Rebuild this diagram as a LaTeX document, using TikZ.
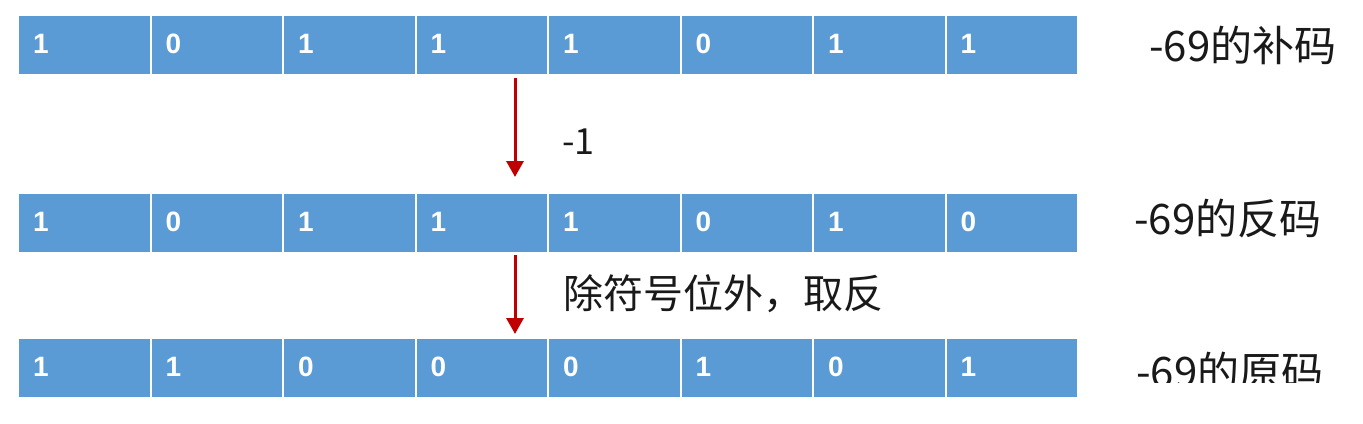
\documentclass[tikz,border=0pt]{standalone}
\usepackage{fontspec}
\setmainfont{Liberation Sans}
\newfontfamily\cjkfont{Noto Sans CJK SC}
\usetikzlibrary{arrows.meta}
\definecolor{cellblue}{RGB}{91,155,213}
\definecolor{arrred}{RGB}{192,0,0}
\definecolor{txtdark}{RGB}{25,25,25}
\tikzset{
  cell/.style={fill=cellblue, draw=white, line width=2bp, minimum width=132.5bp,
    minimum height=60bp, text width=102.5bp, inner xsep=15bp, inner ysep=0pt, align=left,
    anchor=north west, text=white, font=\fontsize{28bp}{30bp}\selectfont\bfseries},
  lbl/.style={text=txtdark, inner sep=0pt, anchor=west, font=\cjkfont\fontsize{42bp}{46bp}\selectfont},
  note/.style={text=txtdark, inner sep=0pt, anchor=west},
  redarrow/.style={draw=arrred, line width=3bp, -{Triangle[width=17bp,length=16bp]}}
}
\begin{document}
\begin{tikzpicture}[x=1bp,y=-1bp]
\useasboundingbox (0,0) rectangle (1363,423);
% row 1: complement
\foreach \b [count=\i from 0] in {1,0,1,1,1,0,1,1}
  \node[cell] (r1c\i) at ({17+132.5*\i},14) {\raisebox{3bp}{\b}};
% row 2: ones' complement
\foreach \b [count=\i from 0] in {1,0,1,1,1,0,1,0}
  \node[cell] (r2c\i) at ({17+132.5*\i},192) {\raisebox{3bp}{\b}};
% row 3: sign-magnitude
\foreach \b [count=\i from 0] in {1,1,0,0,0,1,0,1}
  \node[cell] (r3c\i) at ({17+132.5*\i},337) {\raisebox{3bp}{\b}};
% labels
\node[lbl] (l1) at (1149,45) {-69的补码};
\node[lbl] (l2) at (1134,219) {-69的反码};
\begin{scope}
  \clip (1100,330) rectangle (1363,382);
  \node[lbl] (l3) at (1136,371) {-69的原码};
\end{scope}
% arrows
\coordinate (a1s) at (515,78);
\coordinate (a1e) at (515,177);
\coordinate (a2s) at (515,255);
\coordinate (a2e) at (515,334);
\draw[redarrow] (a1s) -- (a1e);
\draw[redarrow] (a2s) -- (a2e);
\node[note, font=\cjkfont\fontsize{36bp}{40bp}\selectfont] (n1) at (562,142) {-1};
\node[note, font=\cjkfont\fontsize{40bp}{44bp}\selectfont] (n2) at (563,294) {除符号位外，取反};
\end{tikzpicture}
\end{document}
